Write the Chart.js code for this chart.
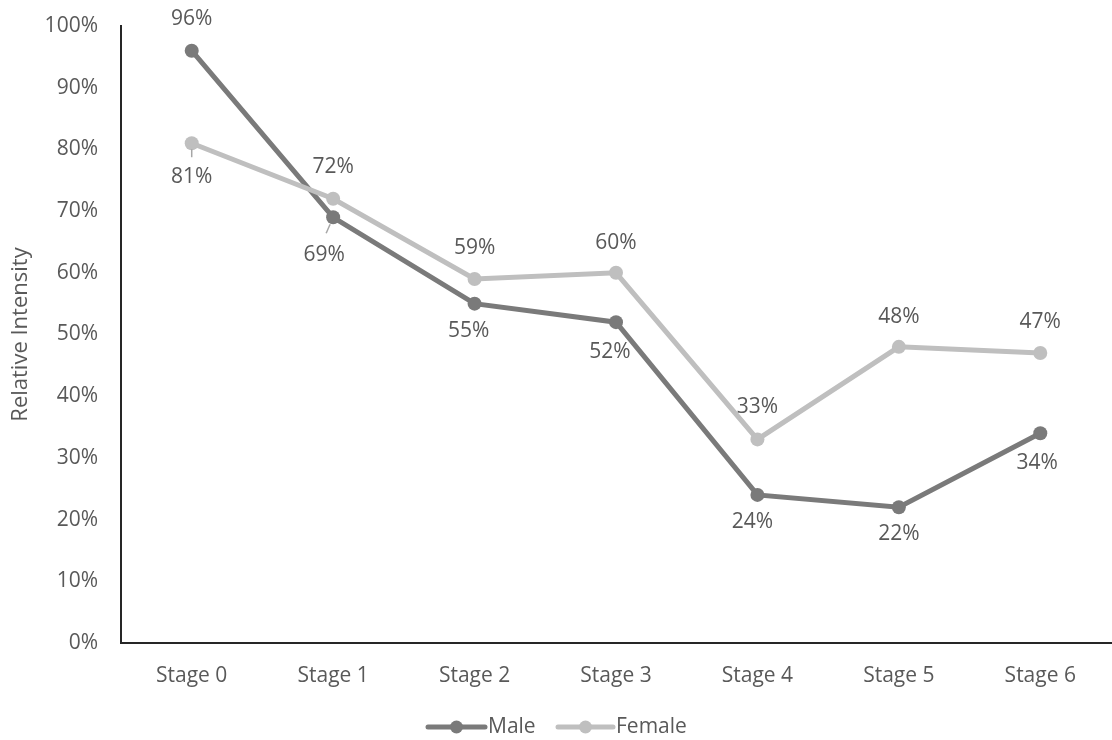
<!DOCTYPE html>
<html>
<head>
<meta charset="utf-8">
<script src="https://cdn.jsdelivr.net/npm/chart.js@4/dist/chart.umd.min.js"></script>
<style>
    html, body { margin: 0; padding: 0; background: #fff; }
    #wrap { width: 1112px; height: 740px; }
</style>
</head>
<body>
<div id="wrap"><canvas id="myChart" width="1112" height="740"></canvas></div>
<script>
(function () {
    "use strict";

    var stages = ['Stage 0', 'Stage 1', 'Stage 2', 'Stage 3', 'Stage 4', 'Stage 5', 'Stage 6'];
    var male = [96, 69, 55, 52, 24, 22, 34];
    var female = [81, 72, 59, 60, 33, 48, 47];
    var yTicks = [0, 10, 20, 30, 40, 50, 60, 70, 80, 90, 100];

    var textColor = '#595959';
    var maleColor = '#7a7a7a';
    var femaleColor = '#bfbfbf';
    var fontFamily = '"Open Sans", "Noto Sans", sans-serif';
    var fontSize = 21;

    // value labels next to each point; dx/dy are pixel nudges from the point
    var valueLabels = {
        id: 'valueLabels',
        afterDatasetsDraw: function (chart) {
            var c = chart.ctx;
            c.save();
            c.font = fontSize + 'px ' + fontFamily;
            c.fillStyle = textColor;
            c.textAlign = 'center';
            c.textBaseline = 'middle';
            chart.data.datasets.forEach(function (ds, i) {
                var meta = chart.getDatasetMeta(i);
                var lab = ds.labelPos;
                meta.data.forEach(function (pt, j) {
                    var dx = lab.dx[j] || 0, dy = lab.dy[j];
                    if (lab.leader[j]) {
                        var l = lab.leader[j];
                        c.strokeStyle = '#a6a6a6';
                        c.lineWidth = 1.5;
                        c.beginPath();
                        c.moveTo(pt.x + l[0], pt.y + l[1]);
                        c.lineTo(pt.x + l[2], pt.y + l[3]);
                        c.stroke();
                    }
                    c.fillText(ds.data[j] + '%', pt.x + dx, pt.y + dy);
                });
            });
            c.restore();
        }
    };

    // legend under the axis: line + dot marker, then the series name
    var lineLegend = {
        id: 'lineLegend',
        afterDraw: function (chart) {
            var c = chart.ctx;
            var y = 727;
            var items = [
                { text: 'Male', color: maleColor, x0: 428, x1: 485, tx: 488 },
                { text: 'Female', color: femaleColor, x0: 558, x1: 613, tx: 616 }
            ];
            c.save();
            c.font = fontSize + 'px ' + fontFamily;
            c.textBaseline = 'middle';
            c.textAlign = 'left';
            items.forEach(function (it) {
                c.strokeStyle = it.color;
                c.lineWidth = 5;
                c.lineCap = 'round';
                c.beginPath();
                c.moveTo(it.x0, y);
                c.lineTo(it.x1, y);
                c.stroke();
                c.fillStyle = it.color;
                c.beginPath();
                c.arc((it.x0 + it.x1) / 2, y, 6.5, 0, Math.PI * 2);
                c.fill();
                c.fillStyle = textColor;
                c.fillText(it.text, it.tx, y);
            });
            c.restore();
        }
    };

    var ctx = document.getElementById('myChart').getContext('2d');

    var myChart = new Chart(ctx, {
        type: 'line',
        data: {
            labels: stages,
            datasets: [{
                label: 'Male',
                data: male,
                borderColor: maleColor,
                backgroundColor: maleColor,
                borderWidth: 5,
                pointRadius: 7,
                pointHoverRadius: 7,
                pointBorderWidth: 0,
                order: 1,
                labelPos: {
                    dx: [0, -9, -6, -6, -5, 0, -3],
                    dy: [-32, 38, 27, 30, 27, 27, 30],
                    leader: [null, [-3, 7, -7, 16], null, null, null, null, null]
                }
            }, {
                label: 'Female',
                data: female,
                borderColor: femaleColor,
                backgroundColor: femaleColor,
                borderWidth: 5,
                pointRadius: 7,
                pointHoverRadius: 7,
                pointBorderWidth: 0,
                order: 0,
                labelPos: {
                    dx: [0, 0, 0, 0, 0, 0, 0],
                    dy: [34, -32, -31, -30, -32, -30, -31],
                    leader: [[0, 6, 0, 14], null, null, null, null, null, null]
                }
            }]
        },
        options: {
            responsive: false,
            animation: false,
            layout: {
                autoPadding: false,
                padding: { top: 26, right: 1, bottom: 47, left: 0 }
            },
            plugins: {
                legend: { display: false },
                tooltip: { enabled: false }
            },
            scales: {
                x: {
                    offset: true,
                    grid: { display: false, drawTicks: false, offset: true },
                    border: { display: true, color: '#262626', width: 2 },
                    ticks: {
                        color: textColor,
                        padding: 20,
                        maxRotation: 0,
                        font: { family: fontFamily, size: fontSize }
                    },
                    afterFit: function (scale) {
                        scale.height = 50;
                        scale.paddingLeft = 0;
                        scale.paddingRight = 0;
                    }
                },
                y: {
                    min: 0,
                    max: 100,
                    grid: { display: false, drawTicks: false },
                    border: { display: true, color: '#262626', width: 2 },
                    afterBuildTicks: function (scale) {
                        scale.ticks = yTicks.map(function (v) { return { value: v }; });
                    },
                    ticks: {
                        color: textColor,
                        padding: 23,
                        font: { family: fontFamily, size: fontSize },
                        callback: function (v) { return v + '%'; }
                    },
                    title: {
                        display: true,
                        text: 'Relative Intensity',
                        color: textColor,
                        padding: { top: 8, bottom: 0 },
                        font: { family: fontFamily, size: 22 }
                    },
                    afterFit: function (scale) {
                        scale.width = 121;
                        scale.paddingTop = 0;
                        scale.paddingBottom = 0;
                    }
                }
            }
        },
        plugins: [valueLabels, lineLegend]
    });
})();
</script>
</body>
</html>
